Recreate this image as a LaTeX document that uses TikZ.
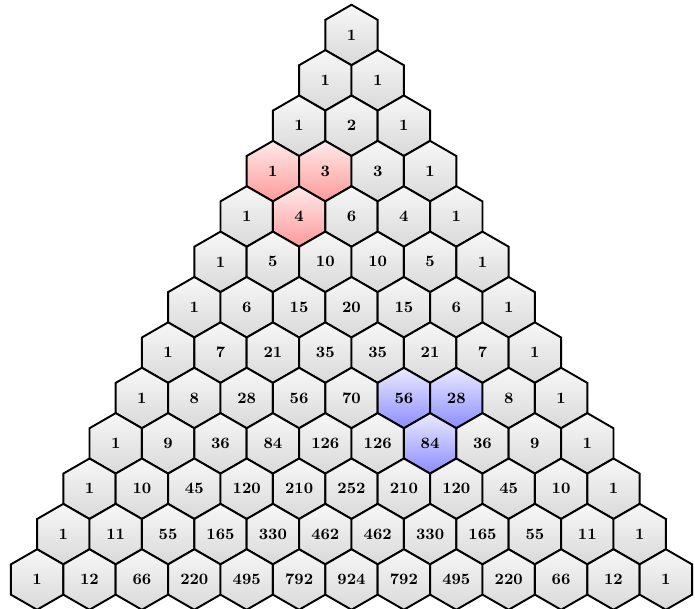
\documentclass[tikz,border=0pt]{standalone}
\usepackage{xcolor}
\usepackage{tikz}
\usetikzlibrary{shapes.geometric}

\begin{document}
\begin{tikzpicture}[x=1.048cm, y=0.9075cm,
    hexcell/.style={regular polygon, regular polygon sides=6, shape border rotate=30,
        minimum size=1.21cm, inner sep=0pt, draw=black, line width=1.1pt,
        top color=gray!6, bottom color=gray!30,
        font=\fontsize{9}{10}\selectfont\bfseries},
    redcell/.style={top color=red!8, bottom color=red!40},
    bluecell/.style={top color=blue!8, bottom color=blue!45},
    % markierte Zellen
    hl-3-0/.style={redcell}, hl-3-1/.style={redcell}, hl-4-1/.style={redcell},
    hl-8-5/.style={bluecell}, hl-8-6/.style={bluecell}, hl-9-6/.style={bluecell}]

    \useasboundingbox (-7.03cm,0.7cm) rectangle (6.87cm,-11.48cm);

    % Dreieck
    \foreach \row [count=\n from 0] in {
        {1},
        {1,1},
        {1,2,1},
        {1,3,3,1},
        {1,4,6,4,1},
        {1,5,10,10,5,1},
        {1,6,15,20,15,6,1},
        {1,7,21,35,35,21,7,1},
        {1,8,28,56,70,56,28,8,1},
        {1,9,36,84,126,126,84,36,9,1},
        {1,10,45,120,210,252,210,120,45,10,1},
        {1,11,55,165,330,462,462,330,165,55,11,1},
        {1,12,66,220,495,792,924,792,495,220,66,12,1}}
        \foreach \val [count=\k from 0] in \row
            \node[hexcell, hl-\n-\k/.try] (c-\n-\k) at ({\k-\n/2},-\n) {\val};
\end{tikzpicture}
\end{document}
